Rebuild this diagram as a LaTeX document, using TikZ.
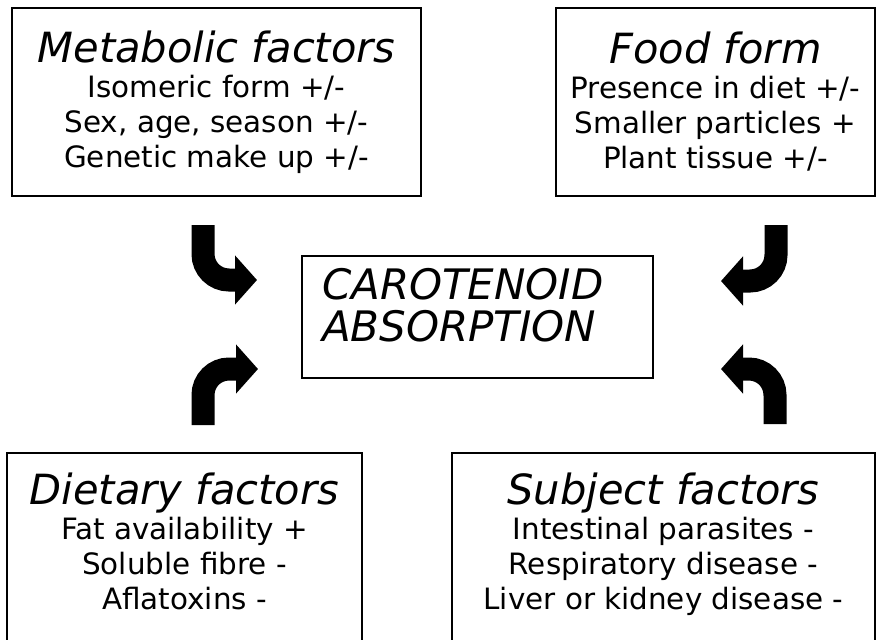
\documentclass[tikz,border=0pt]{standalone}
\usepackage{fontspec}
\setmainfont{DejaVu Sans}
\usetikzlibrary{arrows.meta}

\tikzset{
  factorbox/.style={draw, line width=0.9pt, align=center, inner sep=0pt,
    font=\fontsize{14.7}{17.5}\selectfont},
  bentarrow/.style={line width=11.5pt, rounded corners=13pt,
    -{Triangle[length=11pt,width=24pt]}},
}
\newcommand{\boxtitle}[1]{{\fontsize{20.8}{20}\selectfont\itshape #1}}

\begin{document}
\begin{tikzpicture}[x=0.5pt,y=-0.5pt]
\useasboundingbox (0,0) rectangle (880,639);
\clip (0,0) rectangle (880,639);
\fill[white] (0,0) rectangle (880,639);

% the four groups of factors
\node[factorbox, minimum width=204.5pt, minimum height=94pt] (metab) at (216.5,102)
  {\boxtitle{Metabolic factors}\\Isomeric form +/-\\Sex, age, season +/-\\Genetic make up +/-};
\node[factorbox, minimum width=159.5pt, minimum height=94pt] (food) at (715.5,102)
  {\boxtitle{Food form}\\Presence in diet +/-\\Smaller particles +\\Plant tissue +/-};
\node[factorbox, minimum width=177.5pt, minimum height=103.5pt, text depth=15pt] (diet) at (184.5,556.5)
  {\boxtitle{Dietary factors}\\Fat availability +\\Soluble fibre -\\Aflatoxins -};
\node[factorbox, minimum width=211.5pt, minimum height=103.5pt, text depth=15pt] (subj) at (663.5,556.5)
  {\boxtitle{Subject factors}\\Intestinal parasites -\\Respiratory disease -\\Liver or kidney disease -};

% the centre
\node[draw, line width=0.9pt, minimum width=175.5pt, minimum height=61pt,
  text width=155.5pt, inner xsep=10pt, inner ysep=0pt, align=left, text depth=33pt,
  font=\fontsize{21}{21}\selectfont\itshape] (carot) at (477.5,317)
  {CAROTENOID\\ABSORPTION};

% arrows
\coordinate (tl1) at (203,225);  \coordinate (tl2) at (257,280);
\coordinate (bl1) at (203,425);  \coordinate (bl2) at (258,369);
\coordinate (tr1) at (776,225);  \coordinate (tr2) at (721,281);
\coordinate (br1) at (775,424);  \coordinate (br2) at (721,369);
\foreach \a/\b in {tl1/tl2, bl1/bl2, tr1/tr2, br1/br2}
  \draw[bentarrow] (\a) |- (\b);
\end{tikzpicture}
\end{document}
